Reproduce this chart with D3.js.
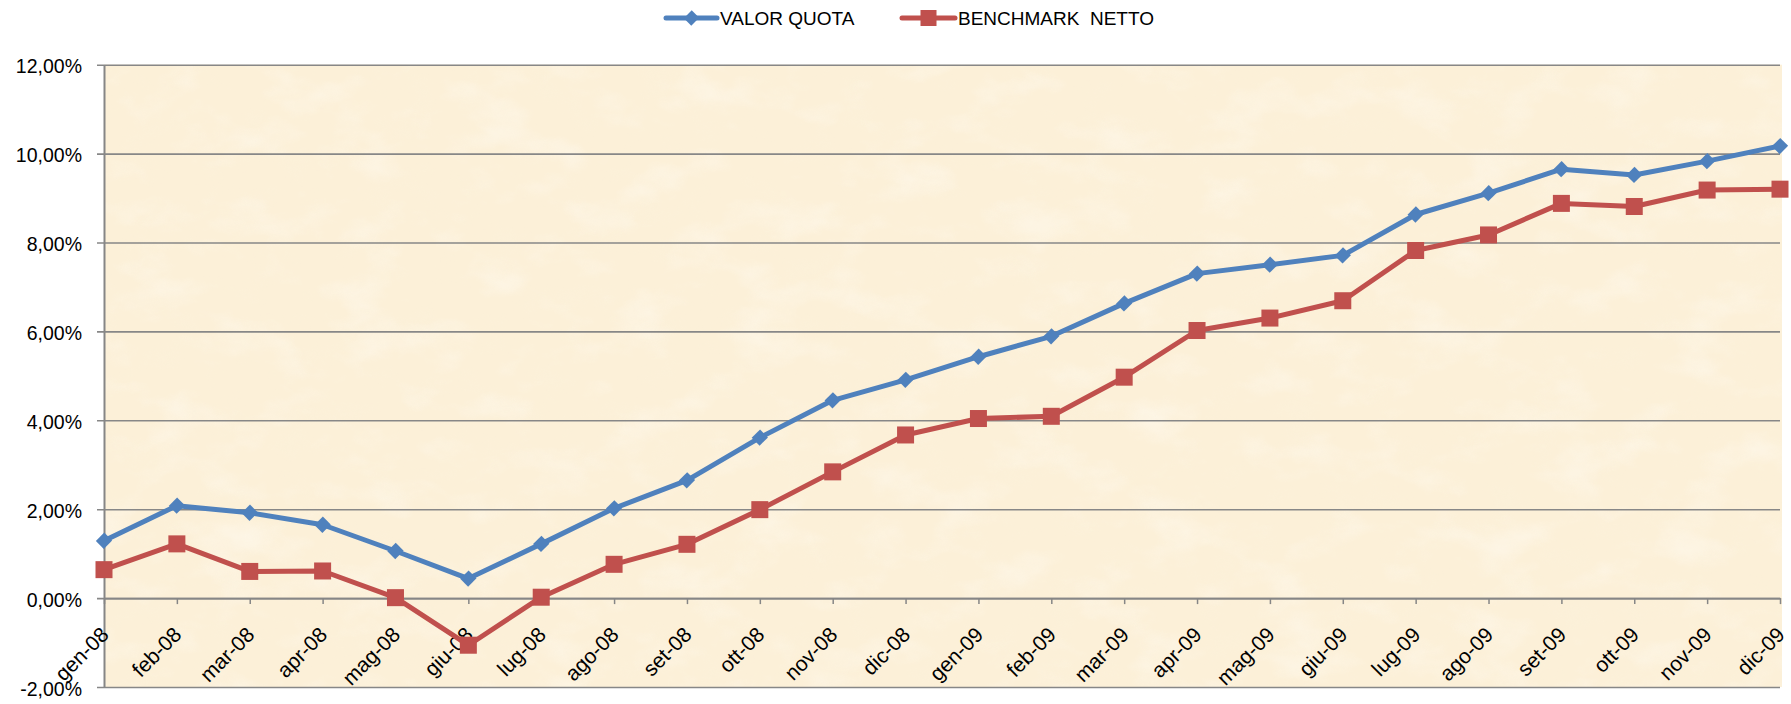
<!DOCTYPE html>
<html>
<head>
<meta charset="utf-8">
<script src="https://cdn.jsdelivr.net/npm/d3@7"></script>
<style>
  html, body { margin: 0; padding: 0; background: #ffffff; }
  svg { display: block; }
  text { font-family: "Liberation Sans", Arial, sans-serif; fill: #000; }
</style>
</head>
<body>
<script>
// ---- Data ----
const categories = ["gen-08","feb-08","mar-08","apr-08","mag-08","giu-08","lug-08","ago-08","set-08","ott-08","nov-08","dic-08",
                    "gen-09","feb-09","mar-09","apr-09","mag-09","giu-09","lug-09","ago-09","set-09","ott-09","nov-09","dic-09"];
const valorQuota = [1.29, 2.08, 1.92, 1.65, 1.06, 0.44, 1.22, 2.02, 2.65, 3.61, 4.45, 4.91,
                    5.43, 5.89, 6.63, 7.30, 7.50, 7.71, 8.63, 9.11, 9.65, 9.52, 9.83, 10.17];
const benchmarkNetto = [0.64, 1.22, 0.60, 0.61, 0.01, -1.06, 0.02, 0.76, 1.21, 1.99, 2.84, 3.67,
                        4.04, 4.09, 4.97, 6.02, 6.30, 6.69, 7.82, 8.17, 8.88, 8.81, 9.18, 9.20];
const yTicks = [-2, 0, 2, 4, 6, 8, 10, 12];
const seriesNames = ["VALOR QUOTA", "BENCHMARK  NETTO"];
const seriesColors = ["#4F81BD", "#C0504D"];

// ---- Layout ----
const W = 1791, H = 704;
const plot = { left: 104, right: 1780, top: 64.7, bottom: 687 };

const svg = d3.select("body").append("svg").attr("width", W).attr("height", H);

const defs = svg.append("defs");
const f1 = defs.append("filter").attr("id", "spotsLight").attr("x", 0).attr("y", 0).attr("width", "100%").attr("height", "100%");
f1.append("feTurbulence").attr("type", "fractalNoise").attr("baseFrequency", "0.015 0.025").attr("numOctaves", 4).attr("seed", 7);
f1.append("feColorMatrix").attr("type", "matrix")
  .attr("values", "0 0 0 0 1  0 0 0 0 0.99  0 0 0 0 0.96  2.0 0 0 0 -1.0");
const f2 = defs.append("filter").attr("id", "spotsDark").attr("x", 0).attr("y", 0).attr("width", "100%").attr("height", "100%");
f2.append("feTurbulence").attr("type", "fractalNoise").attr("baseFrequency", "0.025 0.035").attr("numOctaves", 3).attr("seed", 21);
f2.append("feColorMatrix").attr("type", "matrix")
  .attr("values", "0 0 0 0 0.96  0 0 0 0 0.90  0 0 0 0 0.74  0 1.6 0 0 -0.8");

// ---- Scales ----
const x = d3.scalePoint().domain(categories).range([plot.left, plot.right]);
const y = d3.scaleLinear().domain([-2, 12]).range([plot.bottom, plot.top]);

// ---- Plot background ----
const bg = svg.append("g");
const bgRect = (g) => g.append("rect").attr("x", plot.left).attr("y", plot.top)
  .attr("width", plot.right - plot.left + 2).attr("height", plot.bottom - plot.top);
bgRect(bg).attr("fill", "#FCF0D8");
bgRect(bg).attr("filter", "url(#spotsDark)").attr("opacity", 0.22);
bgRect(bg).attr("filter", "url(#spotsLight)").attr("opacity", 0.45);

// ---- Y axis with gridlines ----
const yAxis = d3.axisLeft(y).tickValues(yTicks)
  .tickSize(-(plot.right - plot.left))
  .tickSizeOuter(0)
  .tickPadding(22)
  .tickFormat(d => d.toFixed(2).replace(".", ",") + "%");
const gy = svg.append("g").attr("transform", `translate(${plot.left},0)`).call(yAxis);
gy.select(".domain").attr("stroke", "#868686").attr("stroke-width", 2);
gy.selectAll(".tick line").attr("stroke", "#878787").attr("stroke-width", 1.6)
  .attr("x1", -7);
gy.selectAll(".tick text").attr("font-size", 19.5).attr("dy", "0.42em").attr("fill", "#000");

// ---- X axis at 0% ----
const xAxis = d3.axisBottom(x).tickSize(6).tickSizeOuter(0).tickFormat("");
const gx = svg.append("g").attr("transform", `translate(0,${y(0)})`).call(xAxis);
gx.select(".domain").attr("stroke", "#868686").attr("stroke-width", 1.8);
gx.selectAll(".tick line").attr("stroke", "#868686").attr("stroke-width", 1.5);

// rotated category labels
svg.append("g").selectAll("text").data(categories).join("text")
  .attr("transform", d => `translate(${x(d) + 6},${y(0) + 38}) rotate(-45)`)
  .attr("text-anchor", "end")
  .attr("font-size", 21)
  .text(d => d);

// ---- Series ----
const line = d3.line().x((d, i) => x(categories[i])).y(d => y(d));

// Valor quota
svg.append("path").datum(valorQuota).attr("d", line)
  .attr("fill", "none").attr("stroke", seriesColors[0]).attr("stroke-width", 5).attr("stroke-linejoin", "round");
svg.append("g").selectAll("path").data(valorQuota).join("path")
  .attr("d", d3.symbol().type(d3.symbolSquare).size(125))
  .attr("transform", (d, i) => `translate(${x(categories[i])},${y(d)}) rotate(45) scale(1,1.06)`)
  .attr("fill", seriesColors[0]);

// Benchmark netto
svg.append("path").datum(benchmarkNetto).attr("d", line)
  .attr("fill", "none").attr("stroke", seriesColors[1]).attr("stroke-width", 5).attr("stroke-linejoin", "round");
svg.append("g").selectAll("rect").data(benchmarkNetto).join("rect")
  .attr("x", (d, i) => x(categories[i]) - 8.5).attr("y", d => y(d) - 8.5)
  .attr("width", 17).attr("height", 17)
  .attr("fill", seriesColors[1]);

// ---- Legend ----
const legend = svg.append("g");
const legItems = [
  { name: seriesNames[0], color: seriesColors[0], x1: 666, x2: 717, textX: 720, shape: "diamond" },
  { name: seriesNames[1], color: seriesColors[1], x1: 902, x2: 955, textX: 958, shape: "square" }
];
const ly = 18;
legItems.forEach(it => {
  legend.append("line").attr("x1", it.x1).attr("x2", it.x2).attr("y1", ly).attr("y2", ly)
    .attr("stroke", it.color).attr("stroke-width", 5).attr("stroke-linecap", "round");
  const cx = (it.x1 + it.x2) / 2;
  if (it.shape === "diamond") {
    legend.append("path").attr("d", d3.symbol().type(d3.symbolSquare).size(110))
      .attr("transform", `translate(${cx},${ly}) rotate(45) scale(1,1.06)`)
      .attr("fill", it.color);
  } else {
    legend.append("rect").attr("x", cx - 8).attr("y", ly - 8).attr("width", 16).attr("height", 16)
      .attr("fill", it.color);
  }
  legend.append("text").attr("x", it.textX).attr("y", ly).attr("dy", "0.36em")
    .attr("font-size", 19).attr("textLength", null).style("white-space", "pre")
    .text(it.name);
});
</script>
</body>
</html>
